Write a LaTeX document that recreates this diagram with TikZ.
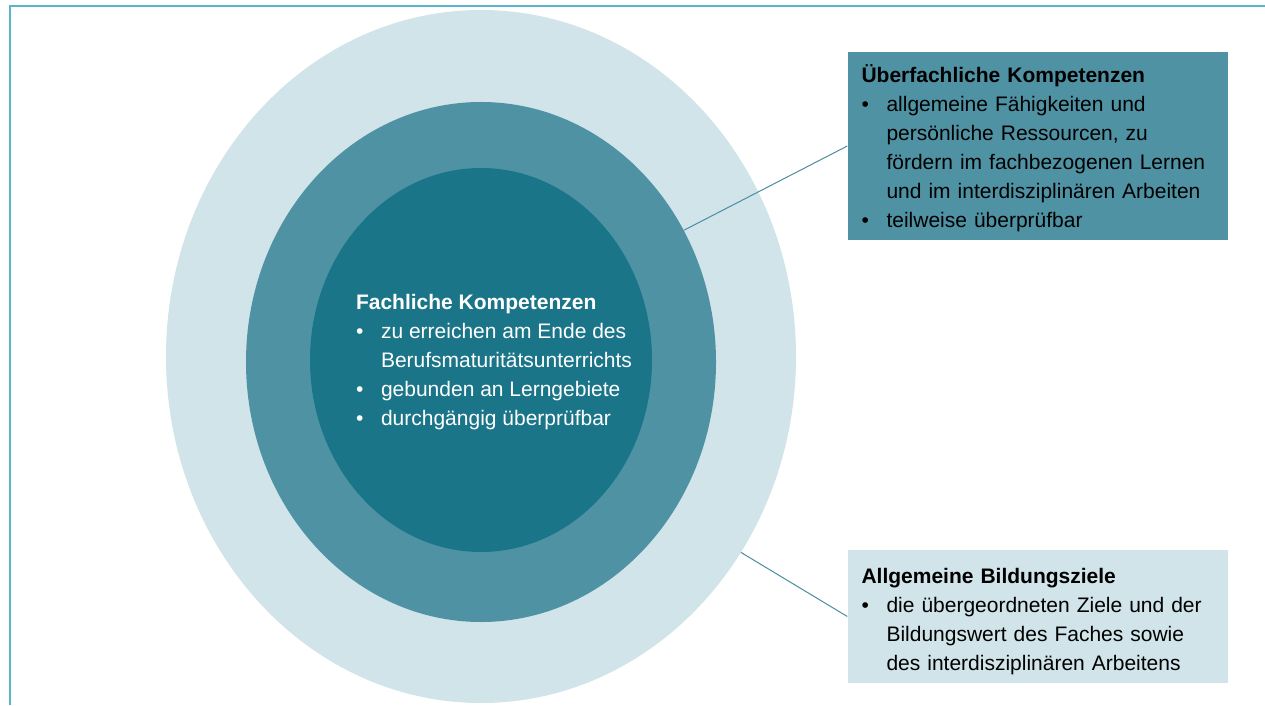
\documentclass[tikz,border=0pt]{standalone}
\usepackage{fontspec}
\setmainfont{Liberation Sans}
\usetikzlibrary{shapes.geometric}
\definecolor{ringlight}{HTML}{D0E4E9}
\definecolor{ringmid}{HTML}{4F92A3}
\definecolor{ringdark}{HTML}{1A7589}
\definecolor{framecol}{HTML}{5AB4CB}
\definecolor{linkcol}{HTML}{4A8EA0}
\newcommand{\bpt}[1]{\makebox[25pt][l]{\textbullet}#1}
\newcommand{\cnt}[1]{\hspace*{25pt}#1}
\begin{document}
\begin{tikzpicture}[x=1pt,y=1pt,
  ring/.style={ellipse,inner sep=0,draw=none},
  infobox/.style={rectangle,inner xsep=14pt,inner ysep=0,text width=352pt,align=left,
    minimum width=380pt,font=\fontsize{21}{29}\selectfont},
  link/.style={draw=linkcol,line width=1pt}]
\useasboundingbox (0,0) rectangle (1265,705);
\draw[framecol,line width=2pt] (9.5,0) -- (9.5,698.5) -- (1265,698.5);
% rings
\node[ring,fill=ringlight,minimum width=630,minimum height=693](outer) at (481,348.5){};
\node[ring,fill=ringmid,minimum width=470,minimum height=520](mid) at (481,343){};
\node[ring,fill=ringdark,minimum width=342,minimum height=384](inner) at (481,345){};
\node[text=white,align=left,font=\fontsize{21}{29}\selectfont](fach) at (494,343)
 {\textbf{Fachliche Kompetenzen}\\
  \bpt{zu erreichen am Ende des}\\
  \cnt{Berufsmaturitätsunterrichts}\\
  \bpt{gebunden an Lerngebiete}\\
  \bpt{durchgängig überprüfbar}};
% boxes
\node[infobox,fill=ringmid,minimum height=188](ueber) at (1037.5,559)
 {\rule{0pt}{23pt}\textbf{Überfachliche Kompetenzen}\\
  \bpt{allgemeine Fähigkeiten und}\\
  \cnt{persönliche Ressourcen, zu}\\
  \cnt{fördern im fachbezogenen Lernen}\\
  \cnt{und im interdisziplinären Arbeiten}\\
  \bpt{teilweise überprüfbar}};
\node[infobox,fill=ringlight,minimum height=133](allg) at (1037.5,88.5)
 {\rule{0pt}{25pt}\textbf{Allgemeine Bildungsziele}\\
  \bpt{die übergeordneten Ziele und der}\\
  \cnt{Bildungswert des Faches sowie}\\
  \cnt{des interdisziplinären Arbeitens}};
\draw[link] (mid.33.4) -- (ueber.west);
\draw[link] (outer.-37.6) -- (allg.west);
\end{tikzpicture}
\end{document}
